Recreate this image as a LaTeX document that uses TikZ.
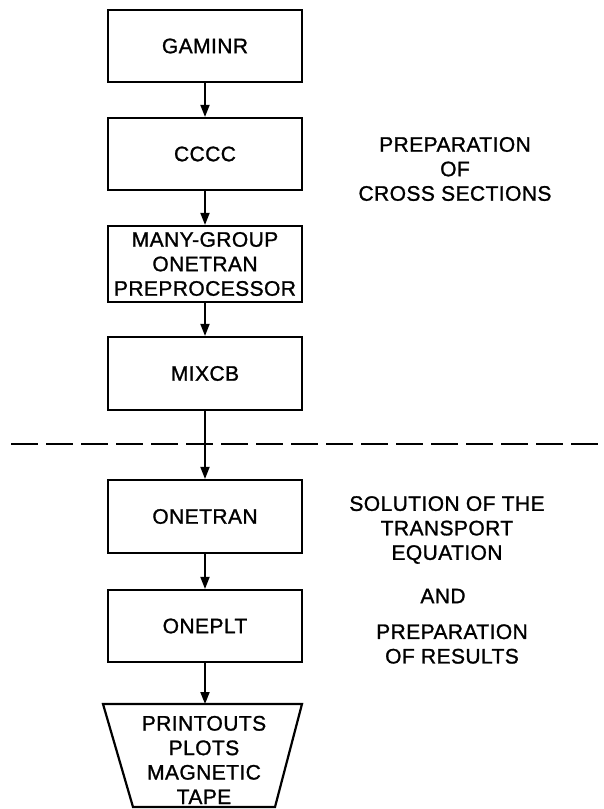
\documentclass[tikz,border=0pt]{standalone}
\usepackage{fontspec}
\setmainfont[LetterSpace=2,FakeBold=1.2]{Liberation Sans}
\usetikzlibrary{arrows.meta}
\begin{document}
\begin{tikzpicture}[x=1pt,y=-1pt,
  every node/.style={font=\fontsize{21}{24.5}\selectfont, align=center, inner sep=0pt},
  prog/.style={draw, line width=2.2pt, minimum width=194pt, minimum height=72pt},
  flow/.style={line width=1.8pt, -{Triangle[length=12pt,width=9pt]}},
  lbl/.style={}]
\useasboundingbox (0,0) rectangle (603,809);
\node[prog] (g) at (205,46) {GAMINR};
\node[prog] (c) at (205,154) {CCCC};
\node[prog, minimum height=76pt] (m) at (205,264) {MANY-GROUP\\ONETRAN\\PREPROCESSOR};
\node[prog, minimum height=73pt] (x) at (205,373.5) {MIXCB};
\node[prog, minimum height=73pt] (o) at (205,516.5) {ONETRAN};
\node[prog] (p) at (205,626) {ONEPLT};
\coordinate (tl) at (103,704);
\coordinate (tr) at (302,704);
\coordinate (br) at (275,807);
\coordinate (bl) at (133,807);
\coordinate (tt) at (205,704);
\draw[line width=2.2pt, line join=miter] (tl) -- (tr) -- (br) -- (bl) -- cycle;
\node (t) at (204,760) {PRINTOUTS\\PLOTS\\MAGNETIC\\TAPE};
\draw[flow] (g) -- (c);
\draw[flow] (c) -- (m);
\draw[flow] (m) -- (x);
\draw[flow] (x) -- (o);
\draw[flow] (o) -- (p);
\draw[flow] (p) -- (tt);
\coordinate (dl) at (11,444);
\coordinate (dr) at (603,444);
\draw[line width=2pt, dash pattern=on 27pt off 8pt] (dl) -- (dr);
\node[lbl] (l1) at (455,169) {PREPARATION\\OF\\CROSS SECTIONS};
\node[lbl] (l2) at (447,530) {SOLUTION OF THE\\TRANSPORT\\EQUATION};
\node[lbl] (l3) at (443,596) {AND};
\node[lbl] (l4) at (452,644) {PREPARATION\\OF RESULTS};
\end{tikzpicture}
\end{document}
